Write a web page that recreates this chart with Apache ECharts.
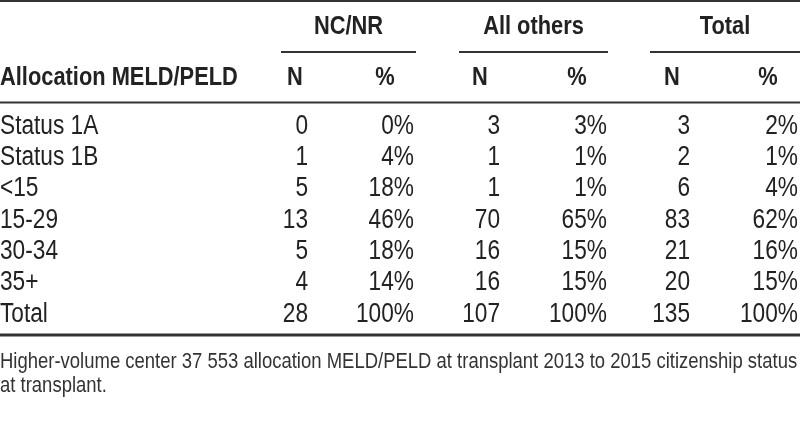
<!DOCTYPE html>
<html>
<head>
<meta charset="utf-8">
<script src="https://cdn.jsdelivr.net/npm/echarts@6/dist/echarts.min.js"></script>
<style>
  html, body { margin: 0; padding: 0; background: #fff; }
  #chart { width: 800px; height: 439px; }
</style>
</head>
<body>
<div id="chart"></div>
<script>
// table rows
const categories = ['Status 1A', 'Status 1B', '<15', '15-29', '30-34', '35+', 'Total'];
const ncnrN = [0, 1, 5, 13, 5, 4, 28];
const ncnrPct = [0, 4, 18, 46, 18, 14, 100];
const othersN = [3, 1, 1, 70, 16, 16, 107];
const othersPct = [3, 1, 1, 65, 15, 15, 100];
const totalN = [3, 2, 6, 83, 21, 20, 135];
const totalPct = [2, 1, 4, 62, 16, 15, 100];
const groupNames = ['NC/NR', 'All others', 'Total'];
const subHeaders = ['N', '%', 'N', '%', 'N', '%'];
const rowHeader = 'Allocation MELD/PELD';
const footnote = 'Higher-volume center 37 553 allocation MELD/PELD at transplant 2013 to 2015 citizenship status\nat transplant.';

// layout (x in pixels, axis runs 0..800)
const colRight = [308, 414, 500, 607, 690, 798];
const subCenter = [295, 385, 480, 577, 672, 768];
const groupSpan = [[281, 416], [459, 608], [650, 800]];

// no condensed font installed, so squeeze Liberation Sans sideways
const FONT = '"Liberation Sans", Arial, sans-serif';
const SQUEEZE = 0.84;
const TXT = '#222';

const columns = [ncnrN, ncnrPct, othersN, othersPct, totalN, totalPct];
const isPct = [false, true, false, true, false, true];

function cellText(align, fmt) {
  return function (params, api) {
    const pt = api.coord([api.value(0), api.value(1)]);
    return {
      type: 'text',
      x: pt[0],
      y: pt[1],
      scaleX: SQUEEZE,
      style: {
        text: fmt(api.value(2), api.value(1)),
        font: '27px ' + FONT,
        fill: TXT,
        align: align,
        verticalAlign: 'middle'
      }
    };
  };
}

const series = columns.map(function (col, c) {
  return {
    type: 'custom',
    silent: true,
    data: col.map(function (v, r) { return [colRight[c], r, v]; }),
    renderItem: cellText('right', function (v) { return v + (isPct[c] ? '%' : ''); })
  };
});

series.push({
  type: 'custom',
  silent: true,
  data: categories.map(function (name, r) { return [0, r, r]; }),
  renderItem: cellText('left', function (v, r) { return categories[r]; })
});

const graphic = [];
// rules
graphic.push({ type: 'line', shape: { x1: 0, y1: 1, x2: 800, y2: 1 }, style: { stroke: '#333', lineWidth: 2 } });
graphic.push({ type: 'line', shape: { x1: 0, y1: 102.5, x2: 800, y2: 102.5 }, style: { stroke: '#333', lineWidth: 2 } });
graphic.push({ type: 'line', shape: { x1: 0, y1: 335, x2: 800, y2: 335 }, style: { stroke: '#333', lineWidth: 3 } });
groupSpan.forEach(function (s, i) {
  graphic.push({ type: 'line', shape: { x1: s[0], y1: 52, x2: s[1], y2: 52 }, style: { stroke: '#333', lineWidth: 2 } });
  graphic.push({
    type: 'text', x: (s[0] + s[1]) / 2, y: 27, scaleX: SQUEEZE,
    style: { text: groupNames[i], font: 'bold 26px ' + FONT, fill: TXT, align: 'center', verticalAlign: 'middle' }
  });
});
subHeaders.forEach(function (h, i) {
  graphic.push({
    type: 'text', x: subCenter[i], y: 78, scaleX: SQUEEZE,
    style: { text: h, font: 'bold 26px ' + FONT, fill: TXT, align: 'center', verticalAlign: 'middle' }
  });
});
graphic.push({
  type: 'text', x: 0, y: 78, scaleX: SQUEEZE,
  style: { text: rowHeader, font: 'bold 26px ' + FONT, fill: TXT, align: 'left', verticalAlign: 'middle' }
});
graphic.push({
  type: 'text', x: 0, y: 350, scaleX: SQUEEZE,
  style: { text: footnote, font: '22px ' + FONT, fill: '#333', align: 'left', verticalAlign: 'top', lineHeight: 24 }
});

const option = {
  animation: false,
  backgroundColor: '#fff',
  grid: { left: 0, right: 0, top: 110.5, height: 219.5 },
  xAxis: { type: 'value', min: 0, max: 800, show: false },
  yAxis: { type: 'category', data: categories, inverse: true, show: false },
  series: series,
  graphic: graphic
};

const myChart = echarts.init(document.getElementById('chart'));
myChart.setOption(option);
window.addEventListener('resize', function () { myChart.resize(); });
</script>
</body>
</html>
